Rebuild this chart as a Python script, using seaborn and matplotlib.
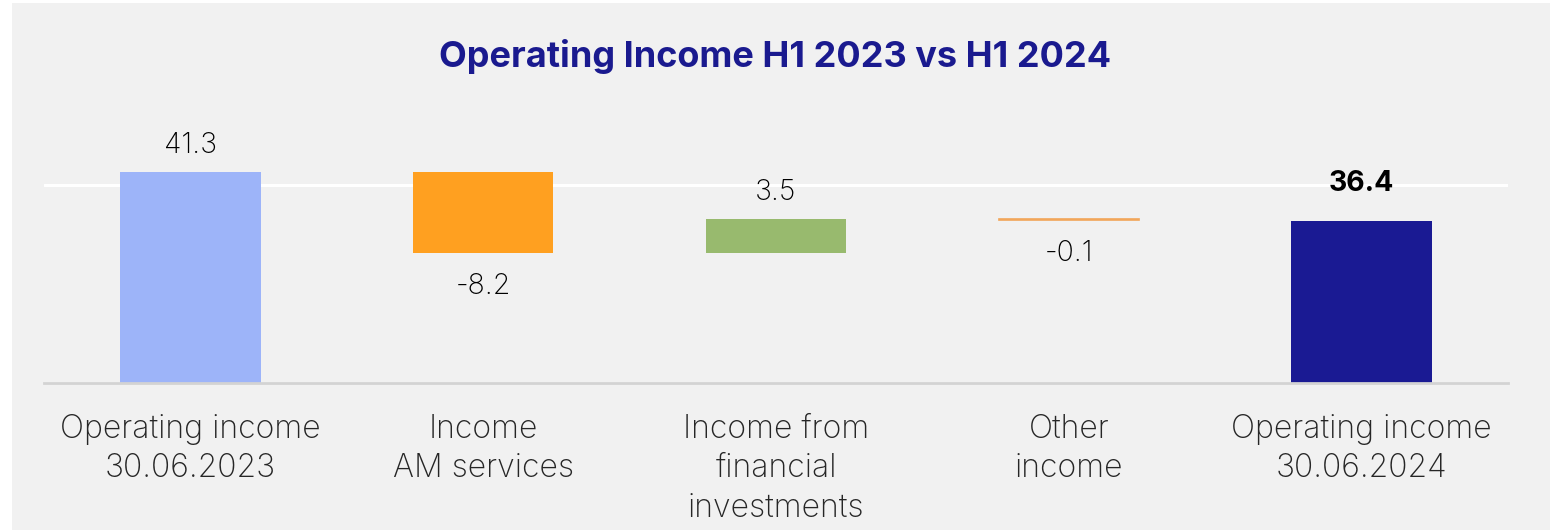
import seaborn as sns
import pandas as pd
import numpy as np
import matplotlib.pyplot as plt
from matplotlib.patches import Rectangle

#%% data
labels = ["Operating income\n30.06.2023", "Income\nAM services",
          "Income from\nfinancial\ninvestments", "Other\nincome",
          "Operating income\n30.06.2024"]
values = [41.3, -8.2, 3.5, -0.1, 36.4]
is_total = [True, False, False, False, True]
bar_colors = ["#9DB4F9", "#FFA020", "#98BA6E", "#F2A65A", "#1A1A93"]
title = "Operating Income H1 2023 vs H1 2024"

#%% waterfall bottoms / heights
bottoms, heights = [], []
running = 0.0
for v, tot in zip(values, is_total):
    if tot:
        bottoms.append(0.0)
        heights.append(v)
        running = v
    else:
        start, end = running, running + v
        bottoms.append(min(start, end))
        heights.append(abs(v))
        running = end

df = pd.DataFrame({"label": labels, "height": heights, "bottom": bottoms, "value": values})

#%% plot
sns.set_theme(style="white")
plt.rcParams['font.family'] = ['Inter', 'DejaVu Sans']
bg = "#F1F1F1"

fig = plt.figure(figsize=(15.5, 5.3), dpi=100)
fig.patch.set_facecolor("white")
fig.patches.append(Rectangle((12 / 1550, 0), 1, 1 - 3 / 530, transform=fig.transFigure,
                             facecolor=bg, edgecolor="none", zorder=-10))

ax = fig.add_axes([44 / 1550, 1 - 383 / 530, 1464 / 1550, 0.5226])
ax.set_facecolor(bg)

sns.barplot(data=df, x="label", y="height", hue="label", palette=bar_colors,
            width=0.48, legend=False, ax=ax, saturation=1, zorder=3)

# move bars to their waterfall bottoms
for p, b, h in zip(ax.patches, bottoms, heights):
    p.set_y(b)
    p.set_height(h)
    p.set_linewidth(0)
ax.patches[3].set_edgecolor(bar_colors[3])
ax.patches[3].set_linewidth(1.2)

ax.set_xlim(-0.5, 4.5)
ax.set_ylim(20, 48)
ax.set_yticks([20, 40])
ax.set_yticklabels([])
ax.tick_params(axis="y", length=0)
ax.tick_params(axis="x", length=0, pad=22, labelsize=23)
ax.yaxis.grid(True, color="white", lw=2.2, zorder=0)
ax.set_axisbelow(True)
for s in ["top", "right", "left"]:
    ax.spines[s].set_visible(False)
ax.spines["bottom"].set_color("#D3D3D3")
ax.spines["bottom"].set_linewidth(2)
ax.spines["bottom"].set_zorder(4)
ax.set_xlabel("")
ax.set_ylabel("")
for t in ax.get_xticklabels():
    t.set_linespacing(1.36)
    t.set_fontweight("light")

# value labels
for i, (v, b, h, tot) in enumerate(zip(values, bottoms, heights, is_total)):
    top = b + h
    if i == len(values) - 1:
        ax.annotate(f"{v:.1f}", (i, top), xytext=(0, 27), textcoords="offset points",
                    ha="center", va="center", fontsize=20.5, fontweight="bold", color="black")
    elif v >= 0:
        ax.annotate(f"{v:.1f}", (i, top), xytext=(0, 19), textcoords="offset points",
                    ha="center", va="center", fontsize=20.5, fontweight="light", color="black")
    else:
        ax.annotate(f"{v:.1f}", (i, b), xytext=(0, -24), textcoords="offset points",
                    ha="center", va="center", fontsize=20.5, fontweight="light", color="black")

fig.text(0.5, 1 - 57 / 530, title, ha="center", va="center", fontsize=26,
         fontweight="bold", color="#1A1A8F")

fig.savefig("out.png", dpi=100, facecolor=fig.get_facecolor())
